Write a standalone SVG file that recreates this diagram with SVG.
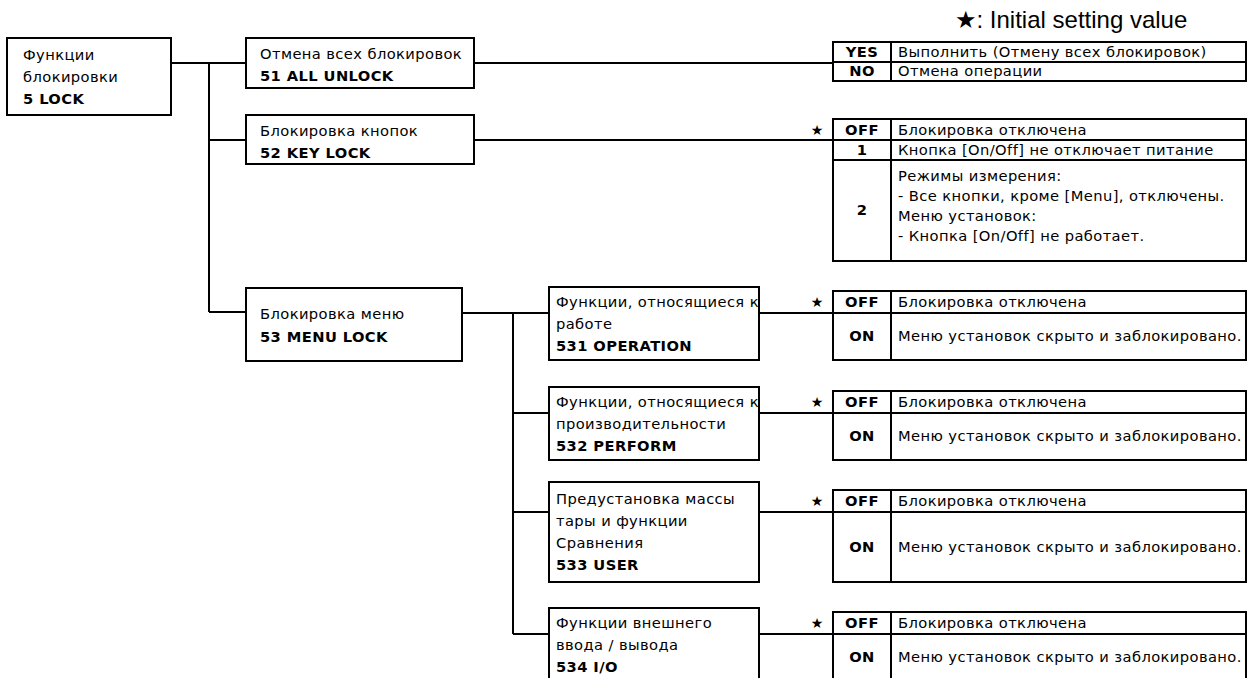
<svg xmlns="http://www.w3.org/2000/svg" width="1248" height="678" viewBox="0 0 1248 678">
<style>
.bx{fill:#fff;stroke:#000;stroke-width:2}
.ln{fill:none;stroke:#000;stroke-width:2}
.tb{fill:none;stroke:#000;stroke-width:2}
.t{font-family:"DejaVu Sans",Verdana,sans-serif;font-size:14.7px;letter-spacing:0.4px;fill:#000}
.b{font-weight:bold}
.k{font-family:"DejaVu Sans",Verdana,sans-serif;font-size:14.7px;letter-spacing:0.4px;font-weight:bold;text-anchor:middle;fill:#000}
.s{font-family:"DejaVu Sans",sans-serif;font-size:14px;text-anchor:middle;fill:#000}
.h{font-family:"Liberation Sans",Arial,"DejaVu Sans",sans-serif;font-size:24px;fill:#000}
</style>
<rect width="1248" height="678" fill="#fff"/>
<text class="h" x="955" y="28">★: Initial setting value</text>
<g id="connectors">
<path class="ln" d="M171 63H209M209 63V312M209 63H246M209 140H246M209 312H246"/>
<path class="ln" d="M474 63H833M474 140H833"/>
<path class="ln" d="M462 313H513M513 313V634M513 313H549M513 413H549M513 512H549M513 634H549"/>
<path class="ln" d="M759 313H833M759 413H833M759 512H833M759 634H833"/>
</g>
<g id="n5">
<rect class="bx" x="7" y="38" width="164" height="77"/>
<text class="t" x="23" y="60">Функции</text>
<text class="t" x="23" y="82">блокировки</text>
<text class="t b" x="23" y="104">5 LOCK</text>
</g>
<g id="n51">
<rect class="bx" x="246" y="38" width="228" height="50"/>
<text class="t" x="260" y="59">Отмена всех блокировок</text>
<text class="t b" x="260" y="81">51 ALL UNLOCK</text>
</g>
<g id="n52">
<rect class="bx" x="246" y="115" width="228" height="49"/>
<text class="t" x="260" y="136">Блокировка кнопок</text>
<text class="t b" x="260" y="158">52 KEY LOCK</text>
</g>
<g id="n53">
<rect class="bx" x="246" y="288" width="216" height="73"/>
<text class="t" x="260" y="319">Блокировка меню</text>
<text class="t b" x="260" y="342">53 MENU LOCK</text>
</g>
<g id="n531">
<rect class="bx" x="549" y="287" width="210" height="73"/>
<text class="t" x="556" y="307">Функции, относящиеся к</text>
<text class="t" x="556" y="329">работе</text>
<text class="t b" x="556" y="351">531 OPERATION</text>
</g>
<g id="n532">
<rect class="bx" x="549" y="387" width="210" height="73"/>
<text class="t" x="556" y="407">Функции, относящиеся к</text>
<text class="t" x="556" y="429">производительности</text>
<text class="t b" x="556" y="451">532 PERFORM</text>
</g>
<g id="n533">
<rect class="bx" x="549" y="482" width="210" height="100"/>
<text class="t" x="556" y="504">Предустановка массы</text>
<text class="t" x="556" y="526">тары и функции</text>
<text class="t" x="556" y="548">Сравнения</text>
<text class="t b" x="556" y="570">533 USER</text>
</g>
<g id="n534">
<rect class="bx" x="549" y="608" width="210" height="80"/>
<text class="t" x="556" y="628">Функции внешнего</text>
<text class="t" x="556" y="650">ввода / вывода</text>
<text class="t b" x="556" y="672">534 I/O</text>
</g>
<g id="t51">
<rect class="tb" x="833" y="42" width="413" height="39"/>
<path class="ln" d="M891 42V81M833 62H1246"/>
<text class="k" x="862" y="57">YES</text>
<text class="t" x="898" y="57">Выполнить (Отмену всех блокировок)</text>
<text class="k" x="862" y="76">NO</text>
<text class="t" x="898" y="76">Отмена операции</text>
</g>
<g id="t52">
<rect class="tb" x="833" y="119" width="413" height="142"/>
<path class="ln" d="M891 119V261M833 140H1246M833 160H1246"/>
<text class="s" x="817" y="135">★</text>
<text class="k" x="862" y="135">OFF</text>
<text class="t" x="898" y="135">Блокировка отключена</text>
<text class="k" x="862" y="155">1</text>
<text class="t" x="898" y="155">Кнопка [On/Off] не отключает питание</text>
<text class="k" x="862" y="215">2</text>
<text class="t" x="898" y="181">Режимы измерения:</text>
<text class="t" x="898" y="201">- Все кнопки, кроме [Menu], отключены.</text>
<text class="t" x="898" y="221">Меню установок:</text>
<text class="t" x="898" y="241">- Кнопка [On/Off] не работает.</text>
</g>
<g id="t531">
<rect class="tb" x="833" y="291" width="413" height="69"/>
<path class="ln" d="M891 291V360M833 313H1246"/>
<text class="s" x="817" y="307">★</text>
<text class="k" x="862" y="307">OFF</text>
<text class="t" x="898" y="307">Блокировка отключена</text>
<text class="k" x="862" y="341">ON</text>
<text class="t" x="898" y="341">Меню установок скрыто и заблокировано.</text>
</g>
<g id="t532">
<rect class="tb" x="833" y="391" width="413" height="69"/>
<path class="ln" d="M891 391V460M833 413H1246"/>
<text class="s" x="817" y="407">★</text>
<text class="k" x="862" y="407">OFF</text>
<text class="t" x="898" y="407">Блокировка отключена</text>
<text class="k" x="862" y="441">ON</text>
<text class="t" x="898" y="441">Меню установок скрыто и заблокировано.</text>
</g>
<g id="t533">
<rect class="tb" x="833" y="490" width="413" height="92"/>
<path class="ln" d="M891 490V582M833 512H1246"/>
<text class="s" x="817" y="506">★</text>
<text class="k" x="862" y="506">OFF</text>
<text class="t" x="898" y="506">Блокировка отключена</text>
<text class="k" x="862" y="552">ON</text>
<text class="t" x="898" y="552">Меню установок скрыто и заблокировано.</text>
</g>
<g id="t534">
<rect class="tb" x="833" y="612" width="413" height="76"/>
<path class="ln" d="M891 612V688M833 634H1246"/>
<text class="s" x="817" y="628">★</text>
<text class="k" x="862" y="628">OFF</text>
<text class="t" x="898" y="628">Блокировка отключена</text>
<text class="k" x="862" y="662">ON</text>
<text class="t" x="898" y="662">Меню установок скрыто и заблокировано.</text>
</g>
</svg>
